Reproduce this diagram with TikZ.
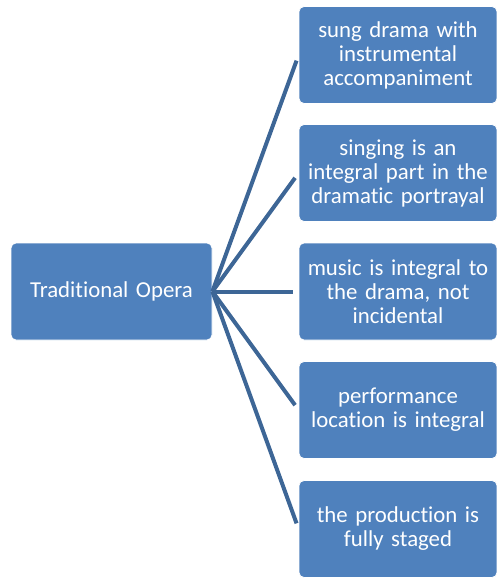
\documentclass[tikz,border=0pt]{standalone}
\usepackage{fontspec}
\setmainfont{Carlito}[Ligatures=NoCommon]
\definecolor{boxblue}{HTML}{4F81BD}
\definecolor{linkblue}{HTML}{3D6696}

\begin{document}
\begin{tikzpicture}[x=1pt,y=-1pt,
	item/.style={draw=white,line width=0.8pt,fill=boxblue,rounded corners=5pt,text=white,align=center,
		minimum width=198pt,minimum height=97pt,text width=196pt,inner sep=0pt,font=\fontsize{22.8}{24}\selectfont},
	link/.style={linkblue,line width=4pt,shorten >=6pt}]
	\useasboundingbox (0,0) rectangle (496,579);
	\node[item,minimum width=201pt] (opera) at (111.5,291.5) {Traditional Opera};
	\node[item] (sung) at (398,55) {sung drama with\\instrumental\\accompaniment};
	\node[item] (singing) at (398,173) {singing is an\\integral part in the\\dramatic portrayal};
	\node[item] (music) at (398,291.5) {music is integral to\\the drama, not\\incidental};
	\node[item] (location) at (398,410) {performance\\location is integral};
	\node[item] (staged) at (398,529) {the production is\\fully staged};
	
	\foreach \n in {sung,singing,music,location,staged}
		\draw[link] (opera.east) -- (\n.west);
\end{tikzpicture}
\end{document}
